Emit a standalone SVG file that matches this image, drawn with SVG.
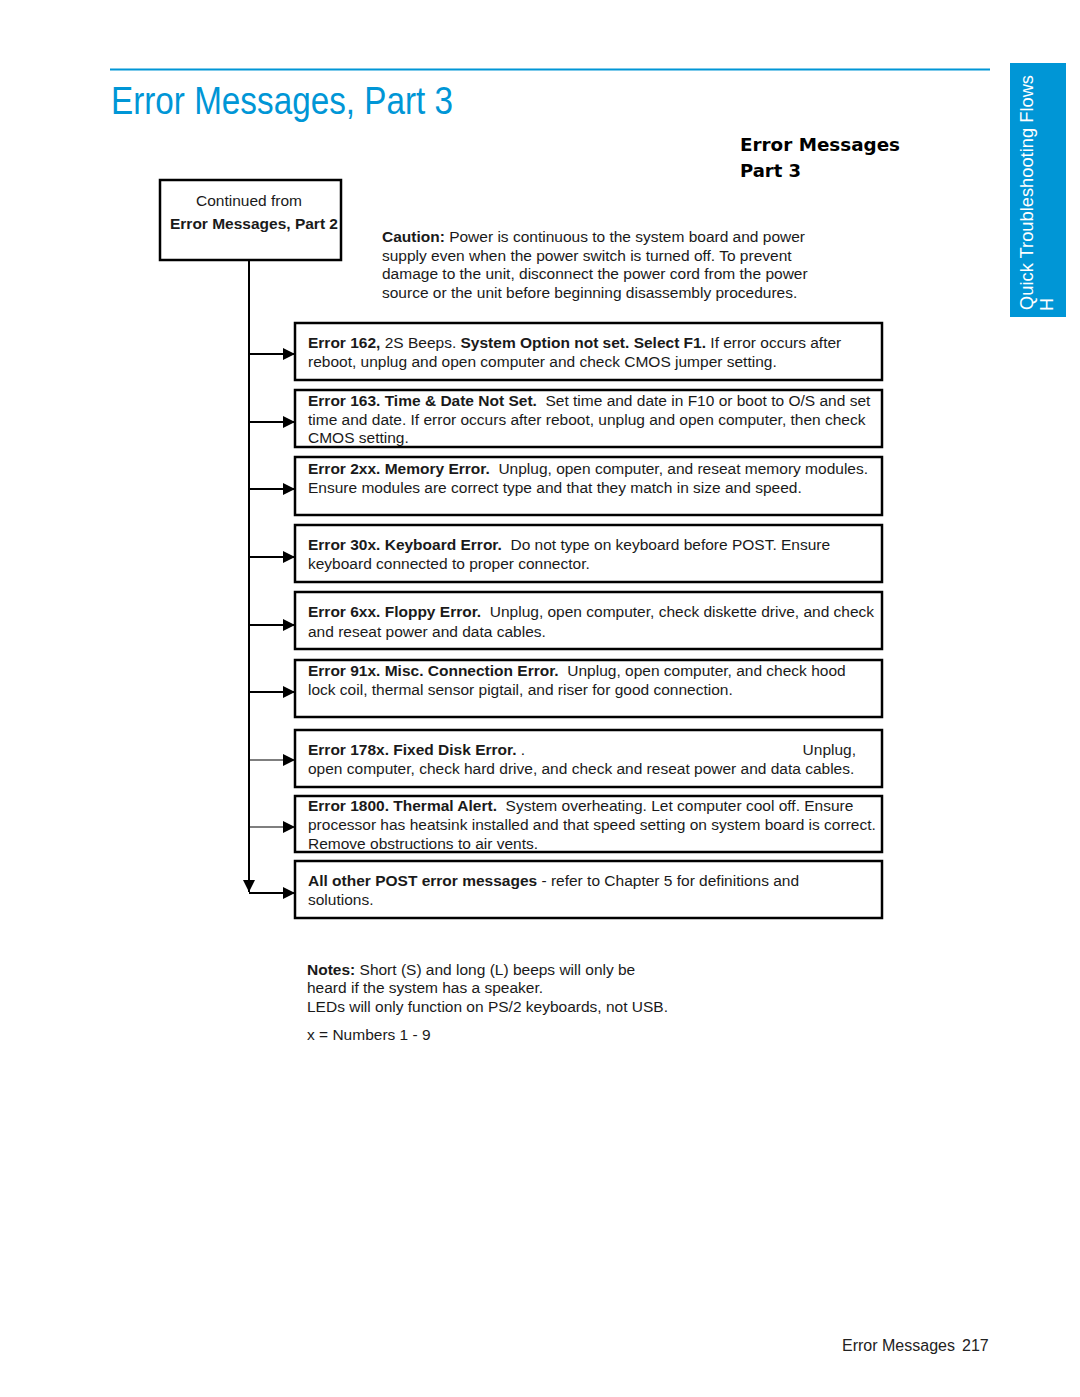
<svg xmlns="http://www.w3.org/2000/svg" width="1080" height="1397" viewBox="0 0 1080 1397">
<style>
.t{font-family:"Liberation Sans",Arial,sans-serif;font-size:15.5px;fill:#1a1a1a}
.b{font-weight:bold}
.box{fill:#fff;stroke:#000;stroke-width:2.5}
.con{fill:none;stroke:#000;stroke-width:2}
.thin{stroke-width:1.2}
.hp{font-family:"Liberation Sans",Arial,sans-serif;fill:#0096d6}
</style>
<defs>
<marker id="ah" markerUnits="userSpaceOnUse" markerWidth="12" markerHeight="14" refX="12" refY="7" orient="auto">
<path d="M0,1 L12,7 L0,13 Z" fill="#000"/>
</marker>
</defs>
<rect width="1080" height="1397" fill="#fff"/>
<line x1="110" y1="69.5" x2="990" y2="69.5" stroke="#0096d6" stroke-width="2"/>
<text class="hp" x="111" y="114" font-size="38" textLength="342" lengthAdjust="spacingAndGlyphs">Error Messages, Part 3</text>
<g id="sidetab">
<rect x="1010" y="63" width="56" height="254" fill="#0096d6"/>
<text class="hp" style="fill:#fff" font-size="19" transform="translate(1033,310) rotate(-90)" textLength="235" lengthAdjust="spacingAndGlyphs">Quick Troubleshooting Flows</text>
<text class="hp" style="fill:#fff" font-size="18" transform="translate(1053,311) rotate(-90)">H</text>
</g>
<g id="heading">
<text x="740" y="151" font-family="DejaVu Sans,sans-serif" font-weight="bold" font-size="18" fill="#000" textLength="160" lengthAdjust="spacingAndGlyphs">Error Messages</text>
<text x="740" y="177" font-family="DejaVu Sans,sans-serif" font-weight="bold" font-size="18" fill="#000">Part 3</text>
</g>
<g id="caution">
<text class="t" x="382" y="242"><tspan class="b">Caution:</tspan> Power is continuous to the system board and power</text>
<text class="t" x="382" y="261">supply even when the power switch is turned off. To prevent</text>
<text class="t" x="382" y="279">damage to the unit, disconnect the power cord from the power</text>
<text class="t" x="382" y="298">source or the unit before beginning disassembly procedures.</text>
</g>
<g id="start">
<rect class="box" x="160" y="180" width="181" height="80"/>
<text class="t" x="249" y="206" text-anchor="middle">Continued from</text>
<text class="t b" x="254" y="229" text-anchor="middle">Error Messages, Part 2</text>
</g>
<g id="connectors">
<line class="con" x1="249" y1="260" x2="249" y2="892" marker-end="url(#ah)"/>
<line class="con" x1="249" y1="354" x2="295" y2="354" marker-end="url(#ah)"/>
<line class="con" x1="249" y1="422" x2="295" y2="422" marker-end="url(#ah)"/>
<line class="con" x1="249" y1="489" x2="295" y2="489" marker-end="url(#ah)"/>
<line class="con" x1="249" y1="557" x2="295" y2="557" marker-end="url(#ah)"/>
<line class="con" x1="249" y1="625" x2="295" y2="625" marker-end="url(#ah)"/>
<line class="con" x1="249" y1="692" x2="295" y2="692" marker-end="url(#ah)"/>
<line class="con thin" x1="249" y1="760" x2="295" y2="760" marker-end="url(#ah)"/>
<line class="con thin" x1="249" y1="827" x2="295" y2="827" marker-end="url(#ah)"/>
<line class="con" x1="249" y1="893" x2="295" y2="893" marker-end="url(#ah)"/>
</g>
<g id="e162">
<rect class="box" x="295" y="323" width="587" height="57"/>
<text class="t" x="308" y="348"><tspan class="b">Error 162,</tspan> 2S Beeps. <tspan class="b">System Option not set. Select F1.</tspan> If error occurs after</text>
<text class="t" x="308" y="367">reboot, unplug and open computer and check CMOS jumper setting.</text>
</g>
<g id="e163">
<rect class="box" x="295" y="390" width="587" height="57"/>
<text class="t" x="308" y="406"><tspan class="b">Error 163. Time &amp; Date Not Set.</tspan>&#160; Set time and date in F10 or boot to O/S and set</text>
<text class="t" x="308" y="425">time and date. If error occurs after reboot, unplug and open computer, then check</text>
<text class="t" x="308" y="443">CMOS setting.</text>
</g>
<g id="e2xx">
<rect class="box" x="295" y="457" width="587" height="58"/>
<text class="t" x="308" y="474"><tspan class="b">Error 2xx. Memory Error.</tspan>&#160; Unplug, open computer, and reseat memory modules.</text>
<text class="t" x="308" y="493">Ensure modules are correct type and that they match in size and speed.</text>
</g>
<g id="e30x">
<rect class="box" x="295" y="525" width="587" height="57"/>
<text class="t" x="308" y="550"><tspan class="b">Error 30x. Keyboard Error.</tspan>&#160; Do not type on keyboard before POST. Ensure</text>
<text class="t" x="308" y="569">keyboard connected to proper connector.</text>
</g>
<g id="e6xx">
<rect class="box" x="295" y="592" width="587" height="57"/>
<text class="t" x="308" y="617"><tspan class="b">Error 6xx. Floppy Error.</tspan>&#160; Unplug, open computer, check diskette drive, and check</text>
<text class="t" x="308" y="637">and reseat power and data cables.</text>
</g>
<g id="e91x">
<rect class="box" x="295" y="660" width="587" height="57"/>
<text class="t" x="308" y="676"><tspan class="b">Error 91x. Misc. Connection Error.</tspan>&#160; Unplug, open computer, and check hood</text>
<text class="t" x="308" y="695">lock coil, thermal sensor pigtail, and riser for good connection.</text>
</g>
<g id="e178x">
<rect class="box" x="295" y="730" width="587" height="57"/>
<text class="t" x="308" y="755"><tspan class="b">Error 178x. Fixed Disk Error.</tspan> .</text>
<text class="t" x="856" y="755" text-anchor="end">Unplug,</text>
<text class="t" x="308" y="774">open computer, check hard drive, and check and reseat power and data cables.</text>
</g>
<g id="e1800">
<rect class="box" x="295" y="796" width="587" height="56"/>
<text class="t" x="308" y="811"><tspan class="b">Error 1800. Thermal Alert.</tspan>&#160; System overheating. Let computer cool off. Ensure</text>
<text class="t" x="308" y="830">processor has heatsink installed and that speed setting on system board is correct.</text>
<text class="t" x="308" y="849">Remove obstructions to air vents.</text>
</g>
<g id="eother">
<rect class="box" x="295" y="861" width="587" height="57"/>
<text class="t" x="308" y="886"><tspan class="b">All other POST error messages</tspan> - refer to Chapter 5 for definitions and</text>
<text class="t" x="308" y="905">solutions.</text>
</g>
<g id="notes">
<text class="t" x="307" y="975"><tspan class="b">Notes:</tspan> Short (S) and long (L) beeps will only be</text>
<text class="t" x="307" y="993">heard if the system has a speaker.</text>
<text class="t" x="307" y="1012">LEDs will only function on PS/2 keyboards, not USB.</text>
<text class="t" x="307" y="1040">x = Numbers 1 - 9</text>
</g>
<g id="footer">
<text x="842" y="1351" font-family="Liberation Sans,Arial,sans-serif" font-size="16" fill="#222">Error Messages</text>
<text x="962" y="1351" font-family="Liberation Sans,Arial,sans-serif" font-size="16" fill="#222">217</text>
</g>
</svg>
